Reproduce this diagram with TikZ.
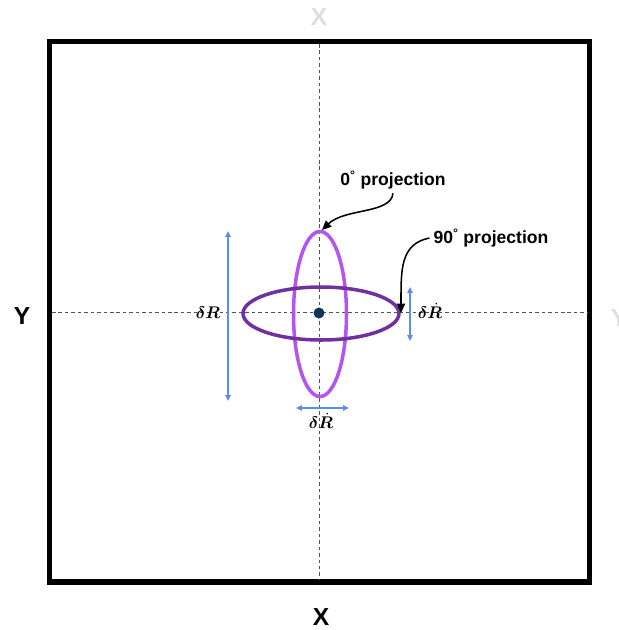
\documentclass[tikz,border=0pt]{standalone}
\usepackage{fontspec}
\setmainfont{Liberation Sans}
\usepackage{bm}
\usetikzlibrary{arrows.meta}
\definecolor{axisgray}{RGB}{68,84,106}
\definecolor{lightpurple}{RGB}{180,85,240}
\definecolor{darkpurple}{RGB}{112,48,160}
\definecolor{spreadblue}{RGB}{91,141,239}
\definecolor{dotnavy}{RGB}{16,52,94}
\definecolor{ghostgray}{RGB}{222,222,222}
\begin{document}
\begin{tikzpicture}[x=0.03cm,y=-0.03cm,
  axis/.style={draw=axisgray,line width=0.8pt,dash pattern=on 3pt off 2.5pt},
  spread/.style={draw=spreadblue,line width=1.1pt,{Triangle[length=5pt,width=4.5pt]}-{Triangle[length=5pt,width=4.5pt]}},
  pointer/.style={draw=black,line width=1.3pt,-{Triangle[length=8pt,width=7pt]}},
  lbl/.style={font=\fontsize{15}{17}\selectfont\bfseries},
  axlbl/.style={font=\fontsize{21}{24}\selectfont\bfseries},
  mlbl/.style={font=\fontsize{14}{16}\selectfont}]
\useasboundingbox (0,0) rectangle (619,630);
% frame and axes
\draw[line width=4.7pt] (49.5,41.5) rectangle (589.5,582);
\draw[axis] (319,44) -- (319,580);
\draw[axis] (52,312) -- (587,312);
\node[axlbl] (ylbl) at (22,316) {Y};
\node[axlbl] (xlbl) at (321,617) {X};
\node[axlbl,text=ghostgray] (xghost) at (319,17) {X};
\node[axlbl,text=ghostgray] (yghost) at (619,318) {Y};
% projections
\draw[lightpurple,line width=3pt] (320,314) ellipse [x radius=26.5,y radius=82.5];
\draw[darkpurple,line width=3pt] (321,313.5) ellipse [x radius=78,y radius=26.5];
\fill[dotnavy] (319,313) circle (5.5);
% spreads
\coordinate (drtop) at (228,231);
\coordinate (drbot) at (228,401);
\draw[spread] (drtop) -- (drbot);
\node[mlbl] (drlbl) at (208,313) {$\bm{\delta R}$};
\coordinate (dvleft) at (296,408);
\coordinate (dvright) at (349,408);
\draw[spread] (dvleft) -- (dvright);
\node[mlbl] (dvlbl) at (321,421) {$\bm{\delta\dot{R}}$};
\coordinate (sidetop) at (410,287);
\coordinate (sidebot) at (410,341);
\draw[spread] (sidetop) -- (sidebot);
\node[mlbl] (sidelbl) at (430,311) {$\bm{\delta\dot{R}}$};
% pointers
\node[lbl] (zerolbl) at (393,180) {0\textsuperscript{°} projection};
\node[lbl] (ninetylbl) at (491,238) {90\textsuperscript{°} projection};
\coordinate (zerotip) at (322,230);
\coordinate (ninetytip) at (401,313);
\draw[pointer] (zerolbl.south) .. controls (391,214) and (345,208) .. (zerotip);
\draw[pointer] (ninetylbl.west) .. controls (400,244) and (401,270) .. (ninetytip);
\end{tikzpicture}
\end{document}
